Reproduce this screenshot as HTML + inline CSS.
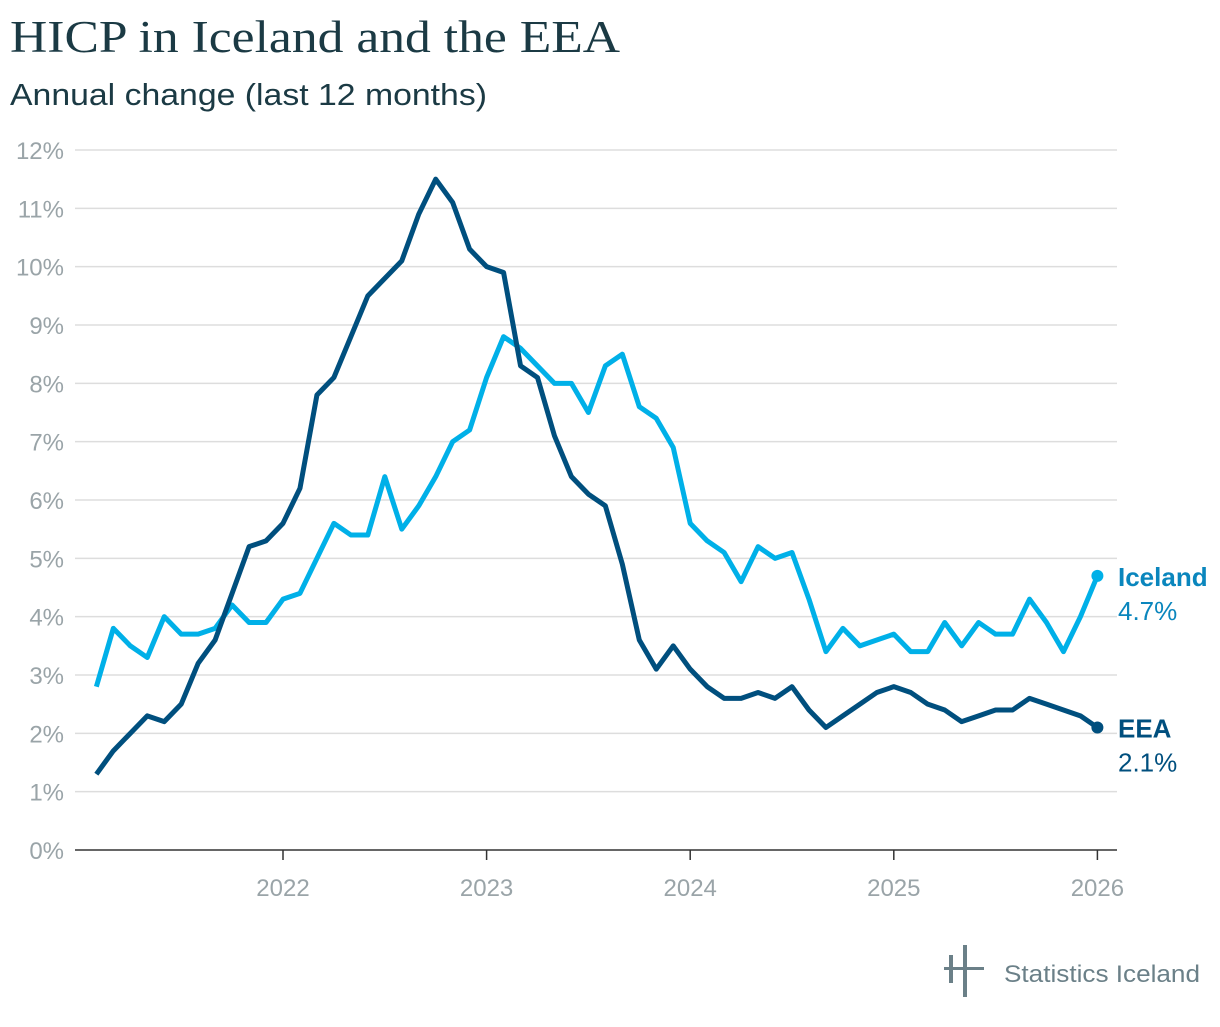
<!DOCTYPE html>
<html><head><meta charset="utf-8"><style>
body{margin:0;background:#fff;width:1220px;height:1022px;overflow:hidden;font-family:"Liberation Sans",sans-serif}
</style></head><body>
<svg id="c" width="1220" height="1022" xmlns="http://www.w3.org/2000/svg">
<text x="10" y="52" font-family="Liberation Serif, serif" font-size="45" fill="#1b3a44" textLength="610" lengthAdjust="spacingAndGlyphs">HICP in Iceland and the EEA</text>
<text x="10" y="105" font-size="31" fill="#1b3a44" textLength="477" lengthAdjust="spacingAndGlyphs">Annual change (last 12 months)</text>
<g id="grid"></g><g id="lines"></g>
<g>
<rect x="949" y="955" width="4" height="28" fill="#6b8088"/><rect x="963" y="945" width="4" height="52" fill="#6b8088"/><rect x="944" y="967" width="40" height="3" fill="#6b8088"/>
<text x="1004" y="982" font-size="24" fill="#6b8088" textLength="196" lengthAdjust="spacingAndGlyphs">Statistics Iceland</text></g>
</svg>
<script>
const years=["2022","2023","2024","2025","2026"];
const yTicks=[0,1,2,3,4,5,6,7,8,9,10,11,12];
const eea=[1.3,1.7,2.0,2.3,2.2,2.5,3.2,3.6,4.4,5.2,5.3,5.6,6.2,7.8,8.1,8.8,9.5,9.8,10.1,10.9,11.5,11.1,10.3,10.0,9.9,8.3,8.1,7.1,6.4,6.1,5.9,4.9,3.6,3.1,3.5,3.1,2.8,2.6,2.6,2.7,2.6,2.8,2.4,2.1,2.3,2.5,2.7,2.8,2.7,2.5,2.4,2.2,2.3,2.4,2.4,2.6,2.5,2.4,2.3,2.1];
const iceland=[2.8,3.8,3.5,3.3,4.0,3.7,3.7,3.8,4.2,3.9,3.9,4.3,4.4,5.0,5.6,5.4,5.4,6.4,5.5,5.9,6.4,7.0,7.2,8.1,8.8,8.6,8.3,8.0,8.0,7.5,8.3,8.5,7.6,7.4,6.9,5.6,5.3,5.1,4.6,5.2,5.0,5.1,4.3,3.4,3.8,3.5,3.6,3.7,3.4,3.4,3.9,3.5,3.9,3.7,3.7,4.3,3.9,3.4,4.0,4.7];
const NS="http://www.w3.org/2000/svg";
const y=v=>850-v*58.333;
const xm=i=>283+(i-11)*(203.6/12);
const xy=k=>283+k*203.6;
const g=document.getElementById('grid'),L=document.getElementById('lines');
function mk(t,a,p){const e=document.createElementNS(NS,t);for(const k in a)e.setAttribute(k,a[k]);p.appendChild(e);return e;}
yTicks.forEach(v=>{
 const l=mk('line',{x1:75,x2:1117,y1:y(v),y2:y(v),stroke:v==0?'#333':'#ddd','stroke-width':1.5},g);
 
 
 const t=mk('text',{x:64,y:y(v)+9,'text-anchor':'end','font-size':24,fill:'#9aa4a8'},g);t.textContent=v+'%';
 
 
});
years.forEach((s,k)=>{
 const tk=mk('line',{x1:xy(k),x2:xy(k),y1:850,y2:860,stroke:'#333','stroke-width':1.5},g);
 
 
 const t=mk('text',{x:xy(k),y:896,'text-anchor':'middle','font-size':24,fill:'#9aa4a8'},g);t.textContent=s;
 
 
});
function series(d,c,name,lab){
 const p=mk('path',{d:d.map((v,i)=>(i?'L':'M')+xm(i)+','+y(v)).join(''),fill:'none',stroke:c,'stroke-width':5,'stroke-linejoin':'round'},L);
 
 
 const n=d.length-1;
 const dot=mk('circle',{cx:xm(n),cy:y(d[n]),r:6,fill:c},L);
 
 
 const t1=mk('text',{x:1118,y:y(d[n])+10,'font-size':26,'font-weight':'bold',fill:lab},L);t1.textContent=name=='iceland'?'Iceland':'EEA';
 
 
 const t2=mk('text',{x:1118,y:y(d[n])+44,'font-size':26,fill:lab},L);t2.textContent=d[n].toFixed(1)+'%';
 
 
}
series(iceland,'#00b0e8','iceland','#0a86bd');
series(eea,'#004f7e','eea','#004f7e');
</script>
</body></html>
